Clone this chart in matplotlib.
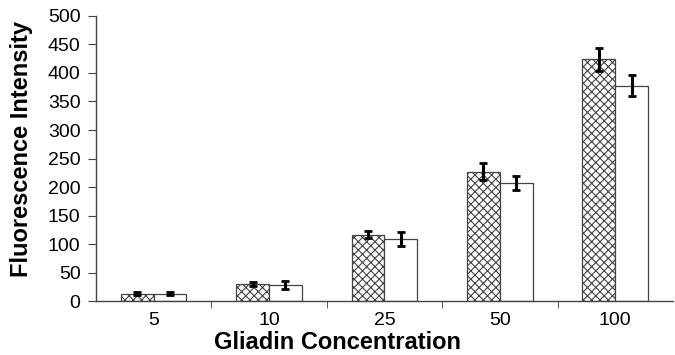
import numpy as np
import matplotlib.pyplot as plt
from matplotlib.ticker import FixedLocator

plt.rcParams['font.family'] = ['Liberation Sans', 'DejaVu Sans']
plt.rcParams['hatch.color'] = '#555555'
plt.rcParams['hatch.linewidth'] = 0.8

# Data
concentrations = ['5', '10', '25', '50', '100']
hatched_vals = [13, 30, 116, 227, 424]
hatched_err = [3, 4, 6, 15, 20]
plain_vals = [13, 28, 109, 207, 378]
plain_err = [3, 7, 12, 13, 18]

x = np.arange(len(concentrations))
w = 0.285

fig = plt.figure(figsize=(6.75, 3.55), dpi=100)
ax = fig.add_axes([0.142, 0.152, 0.855, 0.803])

err_kw = dict(ecolor='black', elinewidth=2.2, capsize=3, capthick=2)
ax.bar(x - w / 2, hatched_vals, w, yerr=hatched_err, color='white',
       edgecolor='#444444', linewidth=0.9, hatch='xxxx', error_kw=err_kw)
ax.bar(x + w / 2, plain_vals, w, yerr=plain_err, color='white',
       edgecolor='#444444', linewidth=0.9, error_kw=err_kw)

ax.set_xlim(-0.5, len(concentrations) - 0.5)
ax.set_ylim(0, 500)
ax.set_yticks(np.arange(0, 501, 50))
ax.set_xticks(x)
ax.set_xticklabels(concentrations)
ax.xaxis.set_minor_locator(FixedLocator(x[:-1] + 0.5))
ax.tick_params(axis='x', which='major', length=0, labelsize=14, pad=8)
ax.tick_params(axis='x', which='minor', length=5, color='#444444')
ax.tick_params(axis='y', length=6, color='#444444', labelsize=14, pad=5)

for s in ['top', 'right']:
    ax.spines[s].set_visible(False)
for s in ['left', 'bottom']:
    ax.spines[s].set_color('#444444')
    ax.spines[s].set_linewidth(1.0)

# axis titles placed like the original (x title centred on the figure)
fig.text(0.5, 1 / 355, 'Gliadin Concentration', fontsize=17, fontweight='bold',
         ha='center', va='bottom')
fig.text(22 / 675, 1 - 149 / 355, 'Fluorescence Intensity', fontsize=17,
         fontweight='bold', rotation=90, ha='center', va='center')

fig.savefig('out.png', dpi=100)
